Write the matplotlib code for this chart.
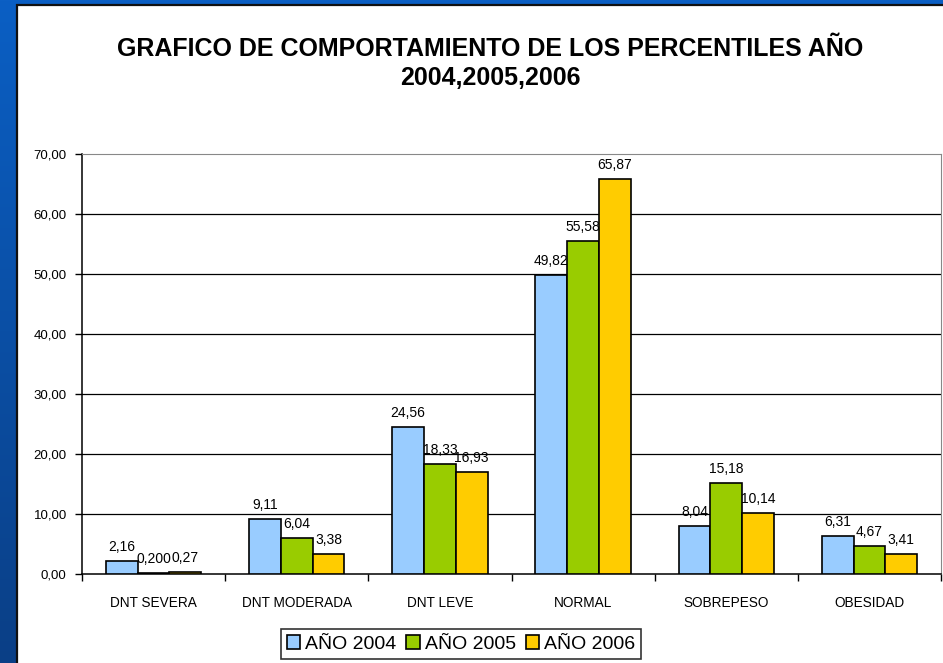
import numpy as np
import matplotlib
matplotlib.use('Agg')
import matplotlib.pyplot as plt
from matplotlib.patches import Rectangle

categories = ['DNT SEVERA', 'DNT MODERADA', 'DNT LEVE', 'NORMAL', 'SOBREPESO', 'OBESIDAD']
series_names = ['AÑO 2004', 'AÑO 2005', 'AÑO 2006']
vals_2004 = [2.16, 9.11, 24.56, 49.82, 8.04, 6.31]
vals_2005 = [0.20, 6.04, 18.33, 55.58, 15.18, 4.67]
vals_2006 = [0.27, 3.38, 16.93, 65.87, 10.14, 3.41]
labels_2004 = ['2,16', '9,11', '24,56', '49,82', '8,04', '6,31']
labels_2005 = ['0,200', '6,04', '18,33', '55,58', '15,18', '4,67']
labels_2006 = ['0,27', '3,38', '16,93', '65,87', '10,14', '3,41']
yticks = [0, 10, 20, 30, 40, 50, 60, 70]
ytick_labels = ['0,00', '10,00', '20,00', '30,00', '40,00', '50,00', '60,00', '70,00']

colors = ['#99ccff', '#99cc00', '#ffcc00']

plt.rcParams['font.family'] = ['Liberation Sans', 'DejaVu Sans']

W, H = 943, 663
fig = plt.figure(figsize=(W / 100, H / 100), dpi=100)

# slide background (blue gradient) and white chart panel
bg = fig.add_axes([0, 0, 1, 1], zorder=-10)
grad = np.linspace(0, 1, 256).reshape(-1, 1)
cmap = matplotlib.colors.LinearSegmentedColormap.from_list('bg', ['#0b5fc4', '#0a3f86'])
bg.imshow(grad, aspect='auto', cmap=cmap, extent=[0, 1, 0, 1])
bg.set_xlim(0, 1)
bg.set_ylim(0, 1)
bg.axis('off')
bg.add_patch(Rectangle((17 / W, -0.01), 1.0, 1 - 5 / H + 0.01, transform=bg.transAxes,
                       facecolor='white', edgecolor='#111111', linewidth=1.6, zorder=2))

fig.text(490 / W, 1 - 63.5 / H, 'GRAFICO DE COMPORTAMIENTO DE LOS PERCENTILES AÑO\n2004,2005,2006',
         ha='center', va='center', fontsize=18, fontweight='bold', linespacing=1.3)

ax = fig.add_axes([82 / W, (H - 574) / H, (941 - 82) / W, (574 - 154) / H])
ax.set_facecolor('none')

x = np.arange(len(categories))
bw = 1 / 4.5
all_vals = [vals_2004, vals_2005, vals_2006]
all_labels = [labels_2004, labels_2005, labels_2006]
for i, (vals, labs) in enumerate(zip(all_vals, all_labels)):
    pos = x + (i - 1) * bw
    ax.bar(pos, vals, width=bw, color=colors[i], edgecolor='black', linewidth=1.2,
           label=series_names[i], zorder=3)
    for px, v, lab in zip(pos, vals, labs):
        ax.annotate(lab, (px, v), xytext=(0, 5), textcoords='offset points',
                    ha='center', va='bottom', fontsize=10, zorder=4)

ax.set_xlim(-0.5, len(categories) - 0.5)
ax.set_ylim(0, 70)
ax.set_yticks(yticks)
ax.set_yticklabels(ytick_labels, fontsize=9.5)
for yv in yticks[1:-1]:
    ax.axhline(yv, color='black', linewidth=0.9, zorder=1)

ax.set_xticks(np.arange(-0.5, len(categories), 1.0))
ax.set_xticklabels([])
ax.set_xticks(x, minor=True)
ax.set_xticklabels(categories, minor=True, fontsize=9.8)
ax.tick_params(axis='x', which='minor', length=0, pad=16)
ax.tick_params(axis='x', which='major', length=5, width=1, direction='out')
ax.tick_params(axis='y', length=5, width=1, direction='out', pad=6)

ax.spines['left'].set_color('black')
ax.spines['bottom'].set_color('black')
ax.spines['left'].set_linewidth(1.1)
ax.spines['bottom'].set_linewidth(1.1)
ax.spines['top'].set_color('#888888')
ax.spines['right'].set_color('#888888')

leg = fig.legend(loc='center', bbox_to_anchor=(461 / W, 1 - 644 / H), ncol=3, fontsize=14,
                 frameon=True, fancybox=False, edgecolor='black', handlelength=0.7,
                 handleheight=0.7, handletextpad=0.25, columnspacing=0.5,
                 borderpad=0.3, borderaxespad=0)
leg.get_frame().set_linewidth(1.2)

fig.savefig('out.png', dpi=100)
